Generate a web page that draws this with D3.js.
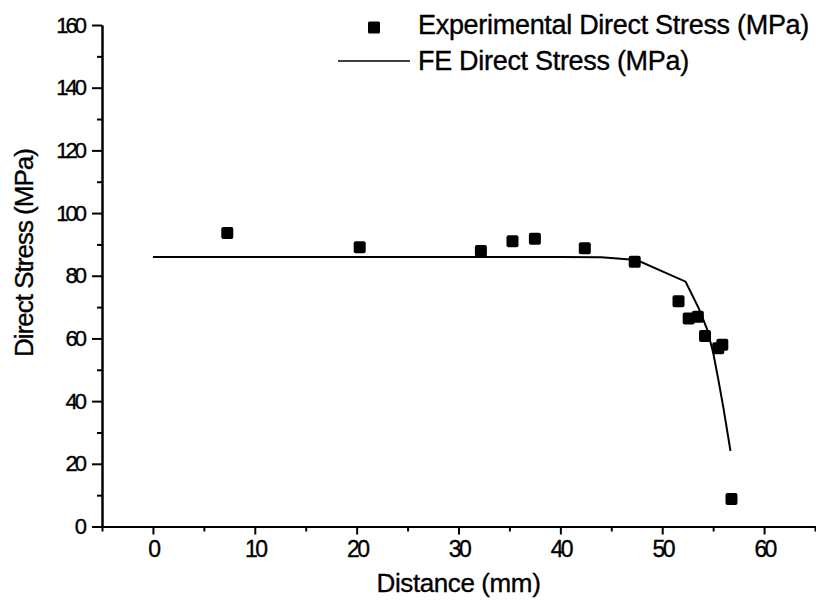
<!DOCTYPE html>
<html>
<head>
<meta charset="utf-8">
<script src="https://cdn.jsdelivr.net/npm/d3@7"></script>
<style>
    body { margin: 0; background: #fff; }
    svg { display: block; }
    text { font-family: "Liberation Sans", Arial, sans-serif; fill: #000; stroke: #000; stroke-width: 0.35px; }
</style>
</head>
<body>
<div id="chart"></div>
<script>

// experimental points
const expDistance = [7.3, 20.3, 32.2, 35.3, 37.5, 42.4, 47.3, 51.6, 52.6, 53.5, 54.2, 55.5, 55.9, 56.8];
const expStress   = [93.6, 89.1, 87.9, 91.0, 91.8, 88.8, 84.5, 71.9, 66.4, 66.9, 60.8, 56.9, 58.0, 8.8];

// FE curve
const feDistance = [0, 10, 20, 30, 40, 44, 47.5, 52.3, 53.6, 54.4, 55.0, 55.5, 56.0, 56.7];
const feStress   = [86, 86, 86, 86, 86, 85.9, 85.0, 78.1, 69.5, 63.0, 55.5, 47.0, 38.0, 24.1];

// ticks
const xTicks = [0, 10, 20, 30, 40, 50, 60];
const xMinorTicks = [-5, 5, 15, 25, 35, 45, 55, 65];
const yTicks = [0, 20, 40, 60, 80, 100, 120, 140, 160];
const yMinorTicks = [10, 30, 50, 70, 90, 110, 130, 150];

const legendLabels = ["Experimental Direct Stress (MPa)", "FE Direct Stress (MPa)"];

let width = 816, height = 602;

let svg = d3.select("#chart").append("svg")
    .attr("width", width)
    .attr("height", height);

let xScale = d3.scaleLinear()
    .domain([-5, 65])
    .range([102, 815]);

let yScale = d3.scaleLinear()
    .domain([0, 160])
    .range([526.5, 25]);

// x axis (minor first, then major with labels)
svg.append("g")
    .attr("class", "x-axis-minor")
    .attr("transform", `translate(0,${yScale(0)})`)
    .call(d3.axisBottom(xScale).tickValues(xMinorTicks).tickSize(5).tickSizeOuter(0).tickFormat(""));

svg.append("g")
    .attr("class", "x-axis")
    .attr("transform", `translate(0,${yScale(0)})`)
    .call(d3.axisBottom(xScale).tickValues(xTicks).tickSize(8).tickSizeOuter(0).tickPadding(6).tickFormat(d3.format("d")));

// y axis
svg.append("g")
    .attr("class", "y-axis-minor")
    .attr("transform", `translate(${xScale(-5)},0)`)
    .call(d3.axisLeft(yScale).tickValues(yMinorTicks).tickSize(5).tickSizeOuter(0).tickFormat(""));

svg.append("g")
    .attr("class", "y-axis")
    .attr("transform", `translate(${xScale(-5)},0)`)
    .call(d3.axisLeft(yScale).tickValues(yTicks).tickSize(10).tickSizeOuter(0).tickPadding(8).tickFormat(d3.format("d")));

svg.selectAll(".domain, .tick line")
    .attr("stroke", "#000")
    .attr("stroke-width", 2);

svg.selectAll(".x-axis text")
    .style("font-size", "23px")
    .style("letter-spacing", "-2.6px");

svg.selectAll(".y-axis text")
    .style("font-size", "22px")
    .style("letter-spacing", "-3px");

// axis titles
svg.append("text")
    .attr("x", xScale(30))
    .attr("y", 592)
    .attr("text-anchor", "middle")
    .style("font-size", "26px")
    .style("letter-spacing", "-0.4px")
    .text("Distance (mm)");

svg.append("text")
    .attr("transform", "translate(33,253) rotate(-90)")
    .attr("text-anchor", "middle")
    .style("font-size", "26px")
    .style("letter-spacing", "-1px")
    .text("Direct Stress (MPa)");

// FE line
let feData = feDistance.map((d, i) => ({x: d, y: feStress[i]}));

svg.append("path")
    .datum(feData)
    .attr("fill", "none")
    .attr("stroke", "#000")
    .attr("stroke-width", 2)
    .attr("d", d3.line().x(d => xScale(d.x)).y(d => yScale(d.y)));

// experimental squares
let expData = expDistance.map((d, i) => ({x: d, y: expStress[i]}));
let size = 12;

svg.selectAll(".expPoint")
    .data(expData)
    .join("rect")
    .attr("class", "expPoint")
    .attr("x", d => xScale(d.x) - size / 2)
    .attr("y", d => yScale(d.y) - size / 2)
    .attr("width", size)
    .attr("height", size)
    .attr("rx", 2)
    .attr("fill", "#000");

// legend
let legend = svg.append("g").attr("class", "legend");

legend.append("rect")
    .attr("x", 368)
    .attr("y", 21.5)
    .attr("width", size)
    .attr("height", size)
    .attr("rx", 1.5)
    .attr("fill", "#000");

legend.append("text")
    .attr("x", 418)
    .attr("y", 33.5)
    .style("font-size", "27px")
    .style("letter-spacing", "-0.3px")
    .text(legendLabels[0]);

legend.append("line")
    .attr("x1", 338)
    .attr("x2", 410)
    .attr("y1", 61)
    .attr("y2", 61)
    .attr("stroke", "#000")
    .attr("stroke-width", 1.5);

legend.append("text")
    .attr("x", 418)
    .attr("y", 69.5)
    .style("font-size", "27px")
    .style("letter-spacing", "-0.3px")
    .text(legendLabels[1]);

</script>
</body>
</html>
